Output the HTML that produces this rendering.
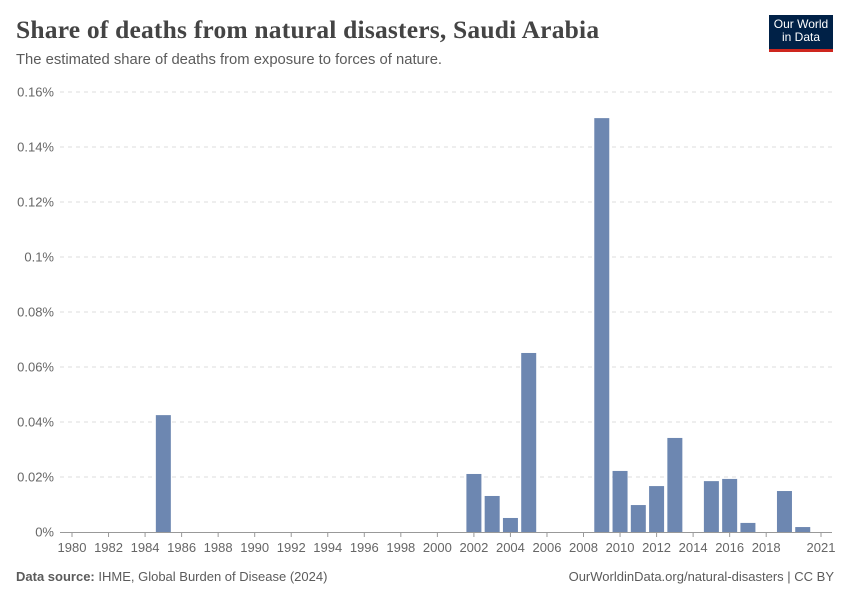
<!DOCTYPE html>
<html><head><meta charset="utf-8"><style>
body{margin:0;background:#fff;font-family:"Liberation Sans",sans-serif;}
#wrap{position:relative;width:850px;height:600px;overflow:hidden;}
.t{position:absolute;white-space:nowrap;}
</style></head><body>
<div id="wrap">
<div class="t" style="left:16px;top:15px;font-family:'Liberation Serif',serif;font-size:25.5px;font-weight:bold;color:#444;letter-spacing:0.2px;">Share of deaths from natural disasters, Saudi Arabia</div>
<div class="t" style="left:16px;top:52px;font-size:14.8px;color:#5b5b5b;">The estimated share of deaths from exposure to forces of nature.</div>
<div style="position:absolute;left:769px;top:15px;width:64px;height:37px;background:#002147;border-bottom:3px solid #ce261e;color:#fff;font-size:12px;line-height:13px;text-align:center;padding-top:3px;box-sizing:border-box;">Our World<br>in Data</div>
<svg id="chart" width="850" height="600" style="position:absolute;left:0;top:0;"></svg>
<div class="t" style="left:16px;top:569px;font-size:13px;color:#5b5b5b;"><b>Data source:</b> IHME, Global Burden of Disease (2024)</div>
<div class="t" style="right:16px;top:569px;font-size:13px;color:#5b5b5b;">OurWorldinData.org/natural-disasters | CC BY</div>
</div>
<script>
const years=[1985,2002,2003,2004,2005,2009,2010,2011,2012,2013,2015,2016,2017,2019,2020];
const values=[0.0425,0.0211,0.0131,0.0051,0.0651,0.1505,0.0222,0.0098,0.0167,0.0342,0.0185,0.0193,0.0033,0.0149,0.0018];
const yTicks=[0,0.02,0.04,0.06,0.08,0.1,0.12,0.14,0.16];
const yTickLabels=["0%","0.02%","0.04%","0.06%","0.08%","0.1%","0.12%","0.14%","0.16%"];
const xTicks=[1980,1982,1984,1986,1988,1990,1992,1994,1996,1998,2000,2002,2004,2006,2008,2010,2012,2014,2016,2018,2021];
const svg=document.getElementById('chart');
const NS='http://www.w3.org/2000/svg';
const x=v=>72+(v-1980)*(821-72)/41;
const y=v=>532-v*(440/0.16);
function mk(tag,attrs){const e=document.createElementNS(NS,tag);for(const k in attrs)e.setAttribute(k,attrs[k]);svg.appendChild(e);return e;}
yTicks.forEach((t,i)=>{
  if(t>0){const l=mk('line',{x1:60,x2:832,y1:y(t),y2:y(t),stroke:'#ddd','stroke-dasharray':'4,4'});
  
  }
  const tx=mk('text',{x:54,y:y(t)+4.5,'text-anchor':'end','font-size':13,fill:'#666','font-family':'Liberation Sans'});
  tx.textContent=yTickLabels[i];
  
  
});
const ax=mk('line',{x1:60,x2:832,y1:532.5,y2:532.5,stroke:'#999'});


xTicks.forEach(t=>{
  const tk=mk('line',{x1:x(t),x2:x(t),y1:532,y2:537,stroke:'#999'});
  
  
  const tx=mk('text',{x:x(t),y:552,'text-anchor':'middle','font-size':13,fill:'#666','font-family':'Liberation Sans'});
  tx.textContent=t;
  
  
});
years.forEach((yr,i)=>{
  const b=mk('rect',{x:x(yr)-7.5,y:y(values[i]),width:15,height:532-y(values[i]),fill:'#6d87b1'});
  
  
});
</script>
</body></html>
